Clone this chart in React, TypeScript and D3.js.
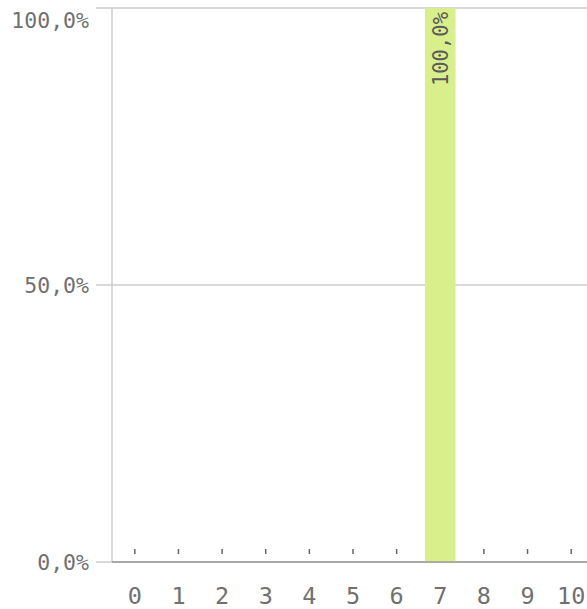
import React from "react";
import * as d3 from "d3";

const categories = ["0", "1", "2", "3", "4", "5", "6", "7", "8", "9", "10"];
const values = [0, 0, 0, 0, 0, 0, 0, 1, 0, 0, 0];
const yTicks = [0, 0.5, 1];

const W = 587;
const H = 609;
const FONT = "'DejaVu Sans Mono', monospace";

export default function App() {
  const left = 112;
  const top = 8;
  const bottom = 562;
  const x = d3.scaleBand<string>().domain(categories).range([113, 593]).paddingInner(0.3).paddingOuter(0.15);
  const y = d3.scaleLinear().domain([0, 1]).range([bottom, top]);
  const fmt = (v: number) => d3.format(".1f")(v * 100).replace(".", ",") + "%";

  return (
    <svg width={W} height={H} style={{ position: "absolute", left: 0, top: 0, display: "block" }}>
      <rect width={W} height={H} fill="#fff" />
      {yTicks.map((t) => (
        <line key={"g" + t} x1={96} x2={W} y1={y(t)} y2={y(t)} stroke="#cccccc" strokeWidth={1.5} />
      ))}
      <line x1={left} x2={left} y1={top} y2={bottom} stroke="#cccccc" strokeWidth={1.5} />
      {yTicks.map((t) => (
        <text
          key={"l" + t}
          x={89}
          y={Math.max(y(t), top + 12)}
          dy="0.36em"
          textAnchor="end"
          fontFamily={FONT}
          fontSize={21.5}
          fill="#707070"
        >
          {fmt(t)}
        </text>
      ))}
      {categories.map((c, i) => {
        const v = values[i];
        if (v <= 0) return null;
        return (
          <g key={"b" + c}>
            <rect x={x(c)!} width={x.bandwidth()} y={y(v)} height={bottom - y(v)} fill="#d9ef8b" />
            <text
              transform={`translate(${x(c)! + x.bandwidth() / 2},${y(v) + 4}) rotate(-90)`}
              textAnchor="end"
              dy="0.36em"
              fontFamily={FONT}
              fontSize={20.5}
              fill="#5a5a5a"
            >
              {fmt(v)}
            </text>
          </g>
        );
      })}
      <line x1={left} x2={W} y1={bottom} y2={bottom} stroke="#999" strokeWidth={1.5} />
      {categories.map((c) => {
        const cx = x(c)! + x.bandwidth() / 2;
        return (
          <g key={"t" + c}>
            {values[categories.indexOf(c)] <= 0 && (
              <line x1={cx} x2={cx} y1={549} y2={554} stroke="#666" strokeWidth={1.5} />
            )}
            <text x={cx} y={596} dy="0.36em" textAnchor="middle" fontFamily={FONT} fontSize={23.5} fill="#707070">
              {c}
            </text>
          </g>
        );
      })}
    </svg>
  );
}
